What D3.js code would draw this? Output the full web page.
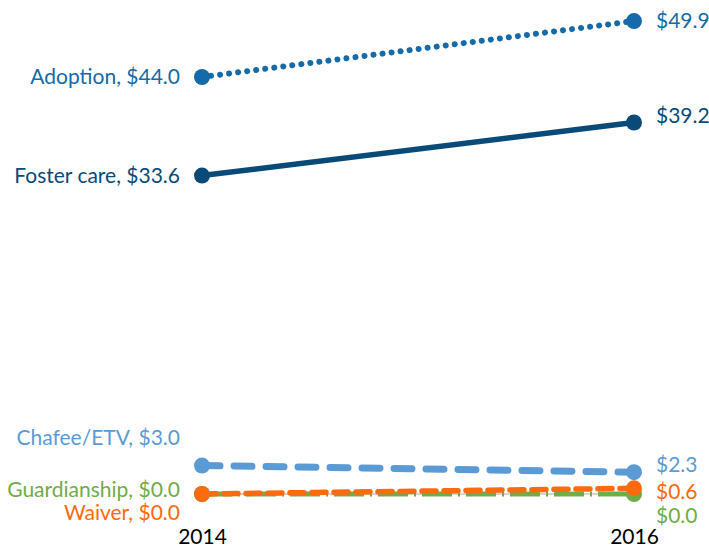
<!DOCTYPE html>
<html><head><meta charset="utf-8">
<script src="https://cdn.jsdelivr.net/npm/d3@7"></script>
<style>body{margin:0;background:#fff}text{font-family:Lato,"Open Sans",sans-serif}</style>
</head><body>
<svg id="c" width="709" height="550"></svg>
<script>
const years = ["2014", "2016"];
const seriesNames = ["Adoption", "Foster care", "Chafee/ETV", "Guardianship", "Waiver"];
const adoption = [44.0, 49.9];
const fosterCare = [33.6, 39.2];
const chafee = [3.0, 2.3];
const guardianship = [0.0, 0.0];
const waiver = [0.0, 0.6];
const colors = ["#156aa9", "#0a4a78", "#5b9bd5", "#70ad47", "#fe6a0e"];
// label offsets (pixels) to avoid overlap
const leftOffsets = [0, 0, -28, -4, 19];
const rightOffsets = [0, -7, -8, 22, 3];

const values = [adoption, fosterCare, chafee, guardianship, waiver];
const svg = d3.select("#c");
const x = d3.scalePoint().domain(years).range([202, 634]);
const y = d3.scaleLinear().domain([0, 44.0]).range([494, 77]);

// baseline
svg.append("line").attr("x1", x(years[0])).attr("x2", x(years[1]))
  .attr("y1", y(0)).attr("y2", y(0)).attr("stroke", "#d4d4d4").attr("stroke-width", 2);

const styles = [
  {w: 6, dash: "0.1 9", cap: "round"},
  {w: 5.5, dash: null, cap: "butt"},
  {w: 7, dash: "18 14", cap: "round"},
  {w: 5, dash: "30 6 2 6", cap: "butt"},
  {w: 5.5, dash: "14 8", cap: "round"}
];
const order = [3, 2, 4, 1, 0];
const line = d3.line().x((d, i) => x(years[i])).y(d => y(d));

order.forEach(k => {
  svg.append("path").datum(values[k]).attr("d", line).attr("fill", "none")
    .attr("stroke", colors[k]).attr("stroke-width", styles[k].w)
    .attr("stroke-linecap", styles[k].cap)
    .attr("stroke-dasharray", styles[k].dash);
});
[3, 4, 2, 1, 0].forEach(k => {
  svg.selectAll(null).data(values[k]).enter().append("circle")
    .attr("cx", (d, i) => x(years[i])).attr("cy", d => y(d)).attr("r", 8)
    .attr("fill", colors[k]);
});

const fmt = d3.format("$.1f");
values.forEach((v, k) => {
  svg.append("text").attr("x", 180).attr("y", y(v[0]) + leftOffsets[k])
    .attr("dy", "0.35em").attr("text-anchor", "end").attr("font-size", 21)
    .attr("fill", colors[k]).text(seriesNames[k] + ", " + fmt(v[0]));
  svg.append("text").attr("x", 656).attr("y", y(v[1]) + rightOffsets[k])
    .attr("dy", "0.35em").attr("text-anchor", "start").attr("font-size", 21)
    .attr("fill", colors[k]).text(fmt(v[1]));
});

const xAxis = d3.axisBottom(x).tickSize(0).tickPadding(0);
const ax = svg.append("g").attr("transform", "translate(0,529)").call(xAxis);
ax.select(".domain").remove();
ax.selectAll("text").attr("font-size", 21).attr("fill", "#000").attr("font-family", "Lato, sans-serif");
</script>
</body></html>
